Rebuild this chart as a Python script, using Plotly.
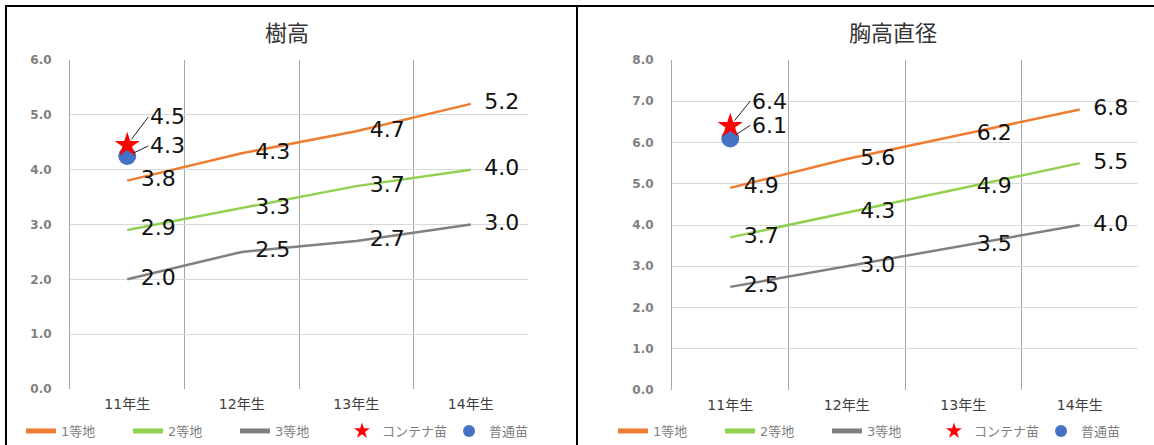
import plotly.graph_objects as go

categories = ["11年生", "12年生", "13年生", "14年生"]
series_names = ["1等地", "2等地", "3等地"]
point_names = ["コンテナ苗", "普通苗"]
titles = ["樹高", "胸高直径"]

height_1 = [3.8, 4.3, 4.7, 5.2]
height_2 = [2.9, 3.3, 3.7, 4.0]
height_3 = [2.0, 2.5, 2.7, 3.0]
height_container = [4.45]
height_normal = [4.25]

dbh_1 = [4.9, 5.6, 6.2, 6.8]
dbh_2 = [3.7, 4.3, 4.9, 5.5]
dbh_3 = [2.5, 3.0, 3.5, 4.0]
dbh_container = [6.4]
dbh_normal = [6.1]

height_range = [0, 6]
dbh_range = [0, 8]

line_colors = ["#ED7D31", "#92D050", "#808080"]
W, H = 1154, 445
LABEL_FONT = dict(family="DejaVu Sans", size=22, color="#111111")


def fmt(v):
    return f"{v + 1e-9:.1f}"


fig = go.Figure()

panels = [
    ("x", "y", "legend", [height_1, height_2, height_3], height_container, height_normal,
     [(21, -28), (21, -10)]),
    ("x2", "y2", "legend2", [dbh_1, dbh_2, dbh_3], dbh_container, dbh_normal,
     [(20, -25), (20, -13)]),
]

annotations = []
for xa, ya, lg, series, cont, norm, offs in panels:
    for name, vals, col in zip(series_names, series, line_colors):
        fig.add_trace(go.Scatter(
            x=categories, y=vals, name=name, xaxis=xa, yaxis=ya, legend=lg,
            mode="lines+markers+text",
            line=dict(color=col, width=2.5),
            marker=dict(size=20, color="rgba(0,0,0,0)"),
            text=[fmt(v) for v in vals], textposition="middle right",
            textfont=LABEL_FONT, cliponaxis=False, showlegend=True,
            hoverinfo="skip",
        ))
    fig.add_trace(go.Scatter(
        x=categories[:1], y=norm, name=point_names[1], xaxis=xa, yaxis=ya, legend=lg,
        mode="markers", marker=dict(symbol="circle", size=18, color="#4472C4"),
        legendrank=1005, cliponaxis=False,
    ))
    fig.add_trace(go.Scatter(
        x=categories[:1], y=cont, name=point_names[0], xaxis=xa, yaxis=ya, legend=lg,
        mode="markers", marker=dict(symbol="star", size=19, color="#FF0000", line=dict(width=0)),
        legendrank=1004, cliponaxis=False,
    ))
    for v, (ax, ay) in zip([cont[0], norm[0]], offs):
        annotations.append(dict(
            x=categories[0], y=v, xref=xa, yref=ya, text=fmt(v),
            showarrow=True, arrowhead=0, arrowwidth=1, arrowcolor="#222222",
            ax=ax, ay=ay, xanchor="left", yanchor="middle", standoff=7,
            font=LABEL_FONT,
        ))

TITLE_FONT = dict(family="Noto Sans CJK JP", size=22, color="#333333")
annotations.append(dict(x=287 / W, y=1 - 31 / H, xref="paper", yref="paper", text=titles[0],
                        xanchor="center", yanchor="middle", showarrow=False, font=TITLE_FONT))
annotations.append(dict(x=893 / W, y=1 - 31 / H, xref="paper", yref="paper", text=titles[1],
                        xanchor="center", yanchor="middle", showarrow=False, font=TITLE_FONT))

xcommon = dict(type="category", categoryorder="array", categoryarray=categories,
               range=[-0.5, 3.5], tickson="boundaries", showgrid=True,
               gridcolor="#a6a6a6", gridwidth=1, ticks="", showline=False, zeroline=False,
               tickfont=dict(family="DejaVu Sans, Noto Sans CJK JP", size=14, color="#404040"),
               ticklabelstandoff=5, automargin=False, fixedrange=True)
ycommon = dict(dtick=1, tickformat=".1f", showgrid=True, gridcolor="#d9d9d9", gridwidth=1,
               zeroline=False, showline=True, linecolor="#a6a6a6", linewidth=1, ticks="",
               tickfont=dict(family="DejaVu Sans", size=12, color="#7f7f7f", weight="bold"),
               ticklabelstandoff=15, automargin=False, fixedrange=True)

legcommon = dict(orientation="h", xanchor="left", yanchor="middle", y=(H - 431) / H,
                 font=dict(family="DejaVu Sans, Noto Sans CJK JP", size=13, color="#7f7f7f"),
                 bgcolor="rgba(0,0,0,0)", itemwidth=30, itemsizing="constant",
                 traceorder="normal", entrywidth=62)

fig.update_layout(
    width=W, height=H, margin=dict(l=0, r=0, t=0, b=0, autoexpand=False),
    paper_bgcolor="white", plot_bgcolor="white",
    xaxis=dict(domain=[70 / W, 528 / W], anchor="y", **xcommon),
    yaxis=dict(domain=[(H - 389) / H, (H - 60) / H], anchor="x", range=height_range, **ycommon),
    xaxis2=dict(domain=[672 / W, 1138 / W], anchor="y2", **xcommon),
    yaxis2=dict(domain=[(H - 390) / H, (H - 60) / H], anchor="x2", range=dbh_range, **ycommon),
    legend=dict(x=21 / W, **legcommon),
    legend2=dict(x=613 / W, **legcommon),
    annotations=annotations,
    shapes=[
        dict(type="line", xref="paper", yref="paper", x0=5 / W, x1=1, y0=1 - 6 / H, y1=1 - 6 / H,
             line=dict(color="black", width=2)),
        dict(type="line", xref="paper", yref="paper", x0=6 / W, x1=6 / W, y0=0, y1=1 - 6 / H,
             line=dict(color="black", width=2)),
        dict(type="line", xref="paper", yref="paper", x0=577 / W, x1=577 / W, y0=0, y1=1 - 6 / H,
             line=dict(color="black", width=2)),
    ],
    showlegend=True,
)

fig.write_html("out.html")
